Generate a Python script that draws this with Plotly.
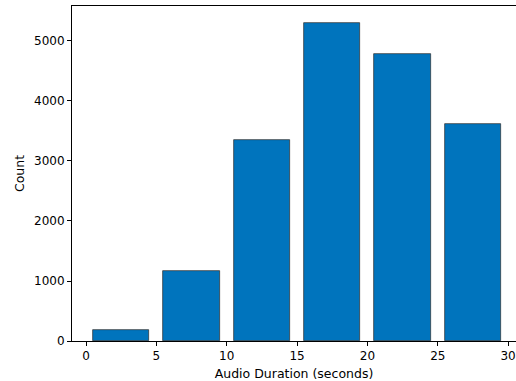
import plotly.graph_objects as go

bin_edges = [0, 5, 10, 15, 20, 25, 30]
counts = [178, 1172, 3345, 5305, 4783, 3617]
x_ticks = [0, 5, 10, 15, 20, 25, 30]
y_ticks = [0, 1000, 2000, 3000, 4000, 5000]

centers = [(a + b) / 2 for a, b in zip(bin_edges[:-1], bin_edges[1:])]
widths = [(b - a) * 0.8 for a, b in zip(bin_edges[:-1], bin_edges[1:])]

fig = go.Figure(go.Bar(
    x=centers, y=counts, width=widths,
    marker=dict(color="#0074BD", line=dict(color="#2b2b2b", width=0.7)),
))

font = dict(family="DejaVu Sans", size=12, color="black")
fig.update_layout(
    width=516, height=381,
    margin=dict(l=72, r=0, t=6, b=40),
    plot_bgcolor="white", paper_bgcolor="white",
    font=font, showlegend=False, bargap=0,
)
fig.update_xaxes(
    range=[-0.995, 30.56], tickvals=x_ticks, ticktext=[str(v) for v in x_ticks],
    showline=True, linecolor="black", linewidth=1, mirror=True,
    ticks="outside", ticklen=4, tickcolor="black", showgrid=False, zeroline=False,
    tickfont=dict(size=12),
    title=dict(text="Audio Duration (seconds)", standoff=6, font=dict(size=12.5)),
)
fig.update_yaxes(
    range=[0, 5583], tickvals=y_ticks, ticktext=[str(v) for v in y_ticks],
    showline=True, linecolor="black", linewidth=1,
    ticks="outside", ticklen=4, tickcolor="black", showgrid=False, zeroline=False,
    tickfont=dict(size=12),
    title=dict(text="Count", standoff=6, font=dict(size=12.5)),
)
fig.write_html(
    "out.html",
    config={"displayModeBar": False},
    post_script="document.body.style.margin='0';document.body.style.overflow='hidden';",
)
